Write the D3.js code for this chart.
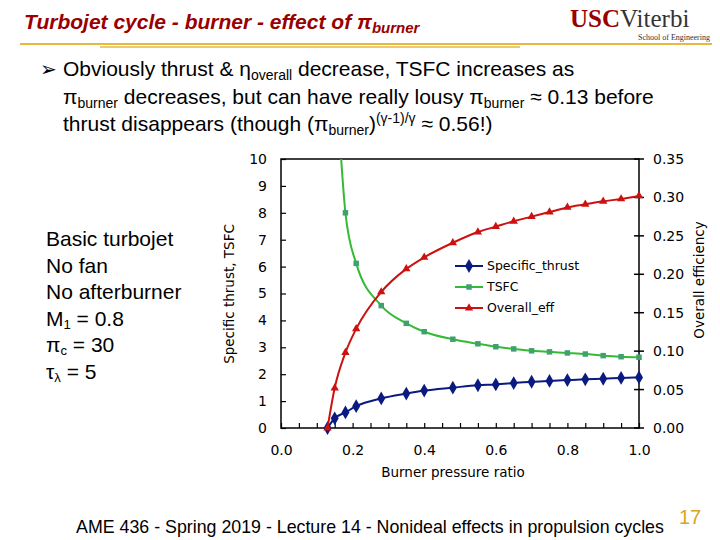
<!DOCTYPE html>
<html><head><meta charset="utf-8">
<script src="https://cdn.jsdelivr.net/npm/d3@7"></script>
<style>body{margin:0;background:#fff}svg{display:block}</style>
</head><body>
<svg id="c" width="720" height="540"></svg>
<script>
const pb = [0.13, 0.15, 0.18, 0.21, 0.28, 0.35, 0.40, 0.48, 0.55, 0.60, 0.65, 0.70, 0.75, 0.80, 0.85, 0.90, 0.95, 1.0];
const thrust = [0, 0.36, 0.58, 0.81, 1.10, 1.28, 1.39, 1.50, 1.59, 1.62, 1.67, 1.72, 1.75, 1.78, 1.81, 1.83, 1.86, 1.88];
const tsfc = [null, 14, 8.0, 6.12, 4.55, 3.89, 3.58, 3.30, 3.13, 3.02, 2.94, 2.87, 2.83, 2.79, 2.75, 2.69, 2.65, 2.63];
const eff = [0, 0.052, 0.098, 0.129, 0.177, 0.207, 0.222, 0.241, 0.255, 0.262, 0.269, 0.275, 0.281, 0.287, 0.291, 0.295, 0.298, 0.302];
const xTicks = [0, 0.2, 0.4, 0.6, 0.8, 1.0];
const yTicks = d3.range(0, 11);
const y2Ticks = [0, 0.05, 0.10, 0.15, 0.20, 0.25, 0.30, 0.35];
const seriesNames = ["Specific_thrust", "TSFC", "Overall_eff"];

const svg = d3.select("#c");
const maroon = "#990000";
const ff = "Arial, Liberation Sans";

// header
const title = svg.append("text").attr("x", 24).attr("y", 29).attr("font-family", ff)
  .attr("font-size", 21).attr("font-weight", "bold").attr("font-style", "italic").attr("fill", maroon);
title.append("tspan").text("Turbojet cycle - burner - effect of π");
title.append("tspan").attr("font-size", 15).attr("dy", 4).text("burner");
svg.append("line").attr("x1", 20).attr("x2", 712).attr("y1", 44).attr("y2", 44).attr("stroke", "#e8b840").attr("stroke-width", 2);
svg.append("line").attr("x1", 100).attr("x2", 520).attr("y1", 47).attr("y2", 47).attr("stroke", "#e8b840").attr("stroke-width", 1.5);
const logo = svg.append("text").attr("x", 570).attr("y", 27).attr("font-family", "Liberation Serif").attr("font-size", 25);
logo.append("tspan").attr("fill", maroon).attr("font-weight", "bold").text("USC");
logo.append("tspan").attr("fill", "#333").text("Viterbi");
svg.append("text").attr("x", 710).attr("y", 40).attr("text-anchor", "end").attr("font-family", "Liberation Serif")
  .attr("font-size", 8).attr("fill", "#333").text("School of Engineering");

// bullet text
const bt = svg.append("g").attr("font-family", ff).attr("font-size", 21).attr("fill", "#000");
bt.append("text").attr("x", 40).attr("y", 76).attr("font-size", 20).text("➢");
function sub(t, s, after) {
  t.append("tspan").attr("font-size", 14).attr("dy", 4).text(s);
  t.append("tspan").attr("dy", -4).text(after);
}
const t1 = bt.append("text").attr("x", 63).attr("y", 76);
t1.append("tspan").text("Obviously thrust & η"); sub(t1, "overall", " decrease, TSFC increases as");
const t2 = bt.append("text").attr("x", 63).attr("y", 104);
t2.append("tspan").text("π"); sub(t2, "burner", " decreases, but can have really lousy π");
sub(t2, "burner", " ≈ 0.13 before");
const t3 = bt.append("text").attr("x", 63).attr("y", 131);
t3.append("tspan").text("thrust disappears (though (π"); sub(t3, "burner", ")");
t3.append("tspan").attr("font-size", 14).attr("dy", -8).text("(γ-1)/γ");
t3.append("tspan").attr("dy", 8).text(" ≈ 0.56!)");

// side text
["Basic turbojet", "No fan", "No afterburner"].forEach((s, i) => bt.append("text").attr("x", 46).attr("y", 246 + i * 26.5).text(s));
const s4 = bt.append("text").attr("x", 46).attr("y", 326);
s4.append("tspan").text("M"); s4.append("tspan").attr("font-size", 13).attr("dy", 3).text("1");
s4.append("tspan").attr("dy", -3).text(" = 0.8");
const s5 = bt.append("text").attr("x", 46).attr("y", 352);
s5.append("tspan").text("π"); s5.append("tspan").attr("font-size", 13).attr("dy", 3).text("c");
s5.append("tspan").attr("dy", -3).text(" = 30");
const s6 = bt.append("text").attr("x", 46).attr("y", 379);
s6.append("tspan").text("τ"); s6.append("tspan").attr("font-size", 13).attr("dy", 3).text("λ");
s6.append("tspan").attr("dy", -3).text(" = 5");

// footer
svg.append("text").attr("x", 370).attr("y", 533).attr("text-anchor", "middle").attr("font-family", ff)
  .attr("font-size", 17.8).text("AME 436 - Spring 2019 - Lecture 14 - Nonideal effects in propulsion cycles");
svg.append("text").attr("x", 679).attr("y", 524).attr("font-family", ff).attr("font-size", 20)
  .attr("fill", "#d9a520").text("17");

// chart
const x = d3.scaleLinear().domain([0, 1]).range([281, 639]);
const y = d3.scaleLinear().domain([0, 10]).range([428, 159]);
const y2 = d3.scaleLinear().domain([0, 0.35]).range([428, 159]);
const cf = "DejaVu Sans";
const g = svg.append("g").attr("font-family", cf);
g.append("rect").attr("x", 281).attr("y", 159).attr("width", 358).attr("height", 269)
  .attr("fill", "none").attr("stroke", "#000").attr("stroke-width", 1.5);

const ax = g.append("g").attr("transform", "translate(0,428)")
  .call(d3.axisBottom(x).tickValues(d3.range(0, 1.0001, 0.05)).tickSize(-5).tickFormat(""));
const axl = g.append("g").attr("transform", "translate(0,428)")
  .call(d3.axisBottom(x).tickValues(xTicks).tickSize(0).tickPadding(17).tickFormat(d3.format(".1f")));
const ay = g.append("g").attr("transform", "translate(281,0)")
  .call(d3.axisLeft(y).tickValues(yTicks).tickSize(-5).tickPadding(14).tickFormat(d3.format("d")));
const ay2 = g.append("g").attr("transform", "translate(639,0)")
  .call(d3.axisRight(y2).tickValues(y2Ticks).tickSize(0).tickPadding(14).tickFormat(d3.format(".2f")));
g.append("g").selectAll("line").data(y2Ticks).join("line")
  .attr("x1", 634).attr("x2", 644).attr("y1", d => y2(d)).attr("y2", d => y2(d))
  .attr("stroke", "#000").attr("stroke-width", 1.5);
[ax, axl, ay, ay2].forEach(a => {
  a.select(".domain").remove();
  a.selectAll("line").attr("stroke-width", 1.2);
  a.selectAll("text").attr("font-family", cf).attr("font-size", 14).attr("fill", "#000");
});

g.append("text").attr("x", 453).attr("y", 477).attr("text-anchor", "middle").attr("font-size", 13.5).text("Burner pressure ratio");
g.append("text").attr("transform", "translate(234,294) rotate(-90)").attr("text-anchor", "middle").attr("font-size", 13.5).text("Specific thrust, TSFC");
g.append("text").attr("transform", "translate(704,280) rotate(-90)").attr("text-anchor", "middle").attr("font-size", 13.5).text("Overall efficiency");

svg.append("clipPath").attr("id", "clip").append("rect").attr("x", 270).attr("y", 159).attr("width", 380).attr("height", 280);
const plot = g.append("g").attr("clip-path", "url(#clip)");

const series = [
  { name: seriesNames[0], vals: thrust, sc: y, color: "#0a1a80", sym: d3.symbolDiamond, size: 55 },
  { name: seriesNames[1], vals: tsfc, sc: y, color: "#33bb33", mcolor: "#3fa070", sym: d3.symbolSquare, size: 30 },
  { name: seriesNames[2], vals: eff, sc: y2, color: "#cc1111", sym: d3.symbolTriangle, size: 30 }
];
series.forEach(s => {
  const pts = pb.map((p, i) => [p, s.vals[i]]).filter(d => d[1] != null);
  plot.append("path").datum(pts).attr("fill", "none").attr("stroke", s.color).attr("stroke-width", 2)
    .attr("d", d3.line().x(d => x(d[0])).y(d => s.sc(d[1])).curve(d3.curveMonotoneX));
  plot.selectAll(null).data(pts).join("path")
    .attr("transform", d => `translate(${x(d[0])},${s.sc(d[1])})`)
    .attr("d", d3.symbol(s.sym, s.size)).attr("fill", s.mcolor || s.color);
});

// legend
const lg = g.append("g").attr("transform", "translate(455,266)");
series.forEach((s, i) => {
  const r = lg.append("g").attr("transform", `translate(0,${i * 21})`);
  r.append("line").attr("x1", 0).attr("x2", 28).attr("stroke", s.color).attr("stroke-width", 2);
  r.append("path").attr("transform", "translate(14,0)").attr("d", d3.symbol(s.sym, s.size)).attr("fill", s.mcolor || s.color);
  r.append("text").attr("x", 32).attr("dy", "0.35em").attr("font-size", 12.5).text(s.name);
});
</script></body></html>
